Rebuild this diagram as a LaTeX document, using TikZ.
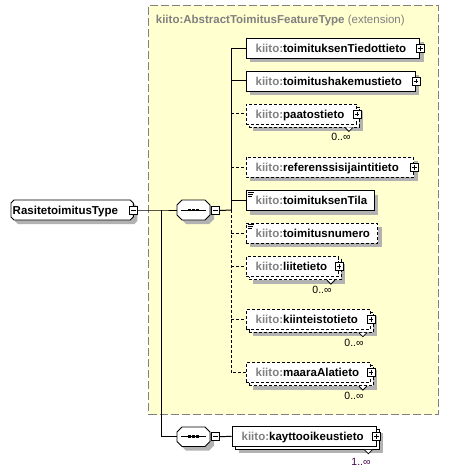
\documentclass[tikz,border=0pt]{standalone}
\usepackage{fontspec}
\setmainfont{Liberation Sans}
\usetikzlibrary{shadows}
\definecolor{ylw}{RGB}{255,255,208}
\definecolor{shd}{RGB}{178,178,178}
\definecolor{pfx}{RGB}{128,128,128}
\definecolor{extb}{RGB}{128,128,128}
\definecolor{cardc}{RGB}{70,0,70}
\newcommand\kpfx{\textcolor{pfx}{kiito:}}
\newcommand\elfont{\fontsize{11.5}{13}\selectfont\bfseries}
\tikzset{
  lw/.style={line width=0.9pt},
  opt/.style={dash pattern=on 3pt off 2pt},
  shad/.style={drop shadow={shadow xshift=4pt, shadow yshift=-4pt, opacity=1, fill=shd}},
  elbox/.style={draw, fill=white, lw, rectangle, minimum height=20pt, inner ysep=0pt,
    inner xsep=9.5pt, text height=8.3pt, text depth=0pt, align=left, anchor=west, font=\elfont},
  backbox/.style={draw, fill=white, lw, rectangle, minimum height=20pt, inner sep=0pt, anchor=west},
  pmbox/.style={draw, fill=white, line width=0.8pt, rectangle, minimum size=8pt, inner sep=0pt},
  plusbox/.style={pmbox, path picture={
      \draw[line width=0.8pt] ([xshift=1.6pt]path picture bounding box.west) -- ([xshift=-1.6pt]path picture bounding box.east);
      \draw[line width=0.8pt] ([yshift=-1.6pt]path picture bounding box.north) -- ([yshift=1.6pt]path picture bounding box.south);}},
  minusbox/.style={pmbox, path picture={
      \draw[line width=0.8pt] ([xshift=1.6pt]path picture bounding box.west) -- ([xshift=-1.6pt]path picture bounding box.east);}},
  cardlbl/.style={font=\fontsize{10.5}{12}\selectfont, inner sep=0pt},
  chamf/.style n args={5}{insert path={({#1+#5},#2) -- ({#3-#5},#2) -- (#3,{#2+#5}) -- (#3,{#4-#5}) -- ({#3-#5},#4) -- ({#1+#5},#4) -- (#1,{#4-#5}) -- (#1,{#2+#5}) -- cycle}},
  anchorbox/.style={rectangle, inner sep=0pt},
  conn/.style={line width=1pt},
  notch/.style={draw, fill=white, line width=0.8pt},
  icon/.style={line width=0.8pt}
}
\begin{document}
\begin{tikzpicture}[x=1pt,y=-1pt]
\useasboundingbox (0,0) rectangle (452,473);
% extension box
\node[draw=extb, fill=ylw, line width=1pt, dash pattern=on 8pt off 3pt, rectangle, inner sep=0pt,
  minimum width=289.5pt, minimum height=409.3pt, anchor=north west] (ext) at (148,5) {};
\node[anchor=base west, inner sep=0pt, text=pfx, font=\fontsize{11.5}{13}\selectfont] (hdr) at (155.7,24)
  {\textbf{kiito:AbstractToimitusFeatureType} (extension)};

% root type
\fill[shd, shift={(4,4)}, chamf={11}{200}{133.3}{220}{3}];
\draw[fill=white, lw, chamf={11}{200}{133.3}{220}{3}];
\node[anchorbox, minimum width=122.3pt, minimum height=20pt, anchor=west, font=\elfont,
  text height=8.3pt, text depth=0pt] (rt) at (11,210) {\hspace*{-4pt}RasitetoimitusType\hspace*{10pt}};
\node[minusbox] (rtm) at (rt.east) {};

% sequence 1
\fill[shd, shift={(4,4)}, chamf={177}{200}{210}{220}{5}];
\draw[fill=white, lw, chamf={177}{200}{210}{220}{5}];
\node[anchorbox, minimum width=33pt, minimum height=20pt] (seq1) at (193.5,210) {};
\node[minusbox] (seq1m) at (215.8,210.5) {};
% sequence 2
\fill[shd, shift={(4,4)}, chamf={177}{427}{210}{446.5}{5}];
\draw[fill=white, lw, chamf={177}{427}{210}{446.5}{5}];
\node[anchorbox, minimum width=33pt, minimum height=19.5pt] (seq2) at (193.5,436.7) {};
\node[minusbox] (seq2m) at (215.8,436.7) {};
\foreach \s in {seq1,seq2}{
  \draw[lw] ([xshift=4pt]\s.west) -- ([xshift=-4pt]\s.east);
  \foreach \dx in {-4,0,4}{
    \fill ([shift={({\dx*1pt-1.4pt},-1.4pt)}]\s.center) rectangle ([shift={({\dx*1pt+1.4pt},1.4pt)}]\s.center);
  }
}

% children
\node[elbox, shad, text width=154.6pt] (c1) at (245.7,48.3) {\kpfx toimituksenTiedottieto};
\node[plusbox] (c1p) at (c1.east) {};
\node[elbox, shad, text width=150.3pt] (c2) at (245.7,81) {\kpfx toimitushakemustieto};
\node[plusbox] (c2p) at (c2.east) {};

\node[backbox, opt, shad, minimum width=110.3pt] (c3b) at (248.7,117) {};
\node[elbox, opt, text width=91.3pt] (c3) at (245.7,114) {\kpfx paatostieto};
\node[plusbox] (c3p) at (c3.east) {};

\node[elbox, opt, shad, text width=148.6pt] (c4) at (245.7,167.3) {\kpfx referenssisijaintitieto};
\node[plusbox] (c4p) at (c4.east) {};

\node[elbox, shad, text width=109.3pt] (c5) at (245.7,200.7) {\kpfx toimituksenTila};
\node[elbox, opt, shad, text width=112.6pt] (c6) at (245.7,233.3) {\kpfx toimitusnumero};

\node[backbox, opt, shad, minimum width=92.3pt] (c7b) at (248.7,269.7) {};
\node[elbox, opt, text width=73.3pt] (c7) at (245.7,266.7) {\kpfx liitetieto};
\node[plusbox] (c7p) at (c7.east) {};

\node[backbox, opt, shad, minimum width=124.3pt] (c8b) at (248.7,322.3) {};
\node[elbox, opt, text width=105.3pt] (c8) at (245.7,319.3) {\kpfx kiinteistotieto};
\node[plusbox] (c8p) at (c8.east) {};

\node[backbox, opt, shad, minimum width=124.3pt] (c9b) at (248.7,375.7) {};
\node[elbox, opt, text width=105.3pt] (c9) at (245.7,372.7) {\kpfx maaraAlatieto};
\node[plusbox] (c9p) at (c9.east) {};

\node[backbox, shad, minimum width=144pt] (c10b) at (234.5,439.3) {};
\node[elbox, text width=125pt] (c10) at (231.7,436.3) {\kpfx kayttooikeustieto};
\node[plusbox] (c10p) at (c10.east) {};

% simple content icons
\foreach \n in {c5,c6}{
  \draw[icon] ([shift={(2pt,-2pt)}]\n.north west) -- ([shift={(8pt,-2pt)}]\n.north west);
  \draw[icon] ([shift={(2pt,-4pt)}]\n.north west) -- ([shift={(7pt,-4pt)}]\n.north west);
  \draw[icon] ([shift={(2pt,-6pt)}]\n.north west) -- ([shift={(6pt,-6pt)}]\n.north west);
}

% notches and cardinalities
\foreach \n in {c3b,c7b,c8b,c9b,c10b}{
  \draw[notch] ([xshift=-15pt]\n.south east) -- ([shift={(-11pt,-4pt)}]\n.south east) -- ([xshift=-7pt]\n.south east);
}
\node[cardlbl] (c3l) at (341,137) {0..∞};
\node[cardlbl] (c7l) at (322,290) {0..∞};
\node[cardlbl] (c8l) at (354,342.7) {0..∞};
\node[cardlbl] (c9l) at (354,396) {0..∞};
\node[cardlbl, text=cardc] (c10l) at (361,462) {1..∞};

% connectors
\coordinate (j1) at (161,210);
\coordinate (j2) at (231,210);
\draw[conn] (rtm.east) -- (j1) -- (seq1.west);
\draw[conn] (j1) |- (seq2.west);
\draw[conn] (seq2m.east) -- (c10.west);
\draw[conn] (seq1m.east) -- (j2);
\draw[conn] (j2) |- (c1.west);
\draw[conn] (j2) |- (c2.west);
\draw[conn] (j2) |- (c5.west);
\draw[conn, opt] (c3.west -| j2) -- (c3.west);
\draw[conn, opt] (c4.west -| j2) -- (c4.west);
\draw[conn, opt] (j2) |- (c9.west);
\draw[conn, opt] (c6.west -| j2) -- (c6.west);
\draw[conn, opt] (c7.west -| j2) -- (c7.west);
\draw[conn, opt] (c8.west -| j2) -- (c8.west);
\end{tikzpicture}
\end{document}
